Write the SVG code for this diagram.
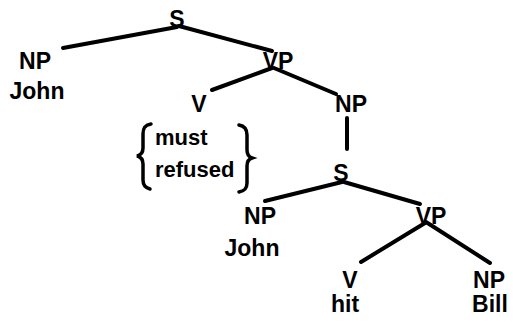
<svg xmlns="http://www.w3.org/2000/svg" width="513" height="325" viewBox="0 0 513 325">
<style>
.t{font-family:"Liberation Sans",Arial,sans-serif;font-weight:bold;font-size:23px;fill:#000;text-anchor:middle}
.w{font-family:"Liberation Sans",Arial,sans-serif;font-weight:bold;font-size:22px;fill:#000}
.e{stroke:#000;stroke-width:4;stroke-linecap:round;fill:none}
.b{stroke:#000;stroke-width:3.5;stroke-linecap:round;fill:none}
</style>
<rect width="513" height="325" fill="#fff"/>
<g id="connectors">
<line class="e" x1="177" y1="27" x2="63" y2="48"/>
<line class="e" x1="179" y1="26" x2="272" y2="51"/>
<line class="e" x1="272" y1="68" x2="212" y2="90"/>
<line class="e" x1="274" y1="68" x2="336" y2="94"/>
<line class="e" x1="347" y1="118" x2="347" y2="149"/>
<line class="e" x1="342" y1="182" x2="265" y2="201"/>
<line class="e" x1="344" y1="182" x2="420" y2="204"/>
<line class="e" x1="425" y1="223" x2="361" y2="262"/>
<line class="e" x1="426" y1="222" x2="490" y2="263"/>
</g>
<g id="s1"><text class="t" x="177" y="27">S</text></g>
<g id="np1"><text class="t" x="35" y="69">NP</text><text class="t" x="37" y="99">John</text></g>
<g id="vp1"><text class="t" x="278" y="69">VP</text></g>
<g id="v1"><text class="t" x="199" y="112">V</text></g>
<g id="modal">
<path class="b" d="M151,124 C144,125 143,129 143,134 L143,148 C143,153 141,155 137,156 C141,157 143,159 143,164 L143,180 C143,186 146,188 150,189"/>
<text class="w" x="155" y="145">must</text>
<text class="w" x="155" y="177">refused</text>
<path class="b" d="M239,125 C245,126 247,130 247,135 L247,150 C247,155 249,157 252,158 C249,159 247,161 247,166 L247,183 C247,189 244,191 239,192"/>
</g>
<g id="np2"><text class="t" x="351" y="112">NP</text></g>
<g id="s2"><text class="t" x="341" y="181">S</text></g>
<g id="np3"><text class="t" x="260" y="224">NP</text><text class="t" x="252" y="256">John</text></g>
<g id="vp2"><text class="t" x="431" y="224">VP</text></g>
<g id="v2"><text class="t" x="350" y="288">V</text><text class="t" x="345" y="312">hit</text></g>
<g id="np4"><text class="t" x="489" y="288">NP</text><text class="t" x="490" y="312">Bill</text></g>
</svg>
